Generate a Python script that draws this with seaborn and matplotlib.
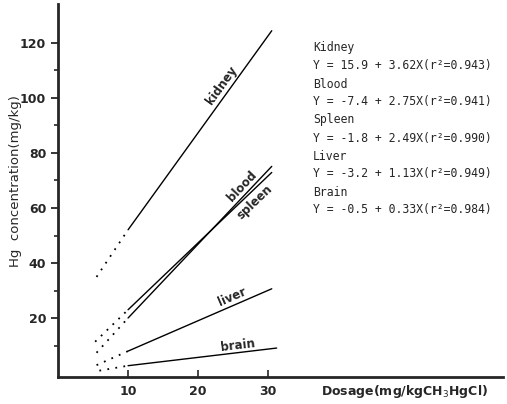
import numpy as np
import pandas as pd
import matplotlib
matplotlib.use("Agg")
import matplotlib.pyplot as plt
import seaborn as sns

# Dose points (mg/kg CH3HgCl): start of dotted extrapolation, start and end of solid fit
organs = ["kidney", "blood", "spleen", "liver", "brain"]
x_dot_start = [5.5, 5.5, 5.3, 5.5, 5.9]
x_solid_start = [10, 10, 10, 10, 10]
x_solid_end = [30.5, 30.5, 30.5, 30.5, 31.2]

# Hg concentration (mg/kg) at those doses
y_dot_start = [35.0, 7.5, 11.5, 3.0, 1.0]
y_solid_start = [52.1, 20.1, 23.1, 8.1, 2.8]
y_solid_end = [124.3, 75.1, 72.9, 30.7, 9.2]

# Regression equations shown at the right
eq_names = ["Kidney", "Blood", "Spleen", "Liver", "Brain"]
eq_text = [
    "Y = 15.9 + 3.62X(r²=0.943)",
    "Y = -7.4 + 2.75X(r²=0.941)",
    "Y = -1.8 + 2.49X(r²=0.990)",
    "Y = -3.2 + 1.13X(r²=0.949)",
    "Y = -0.5 + 0.33X(r²=0.984)",
]

# where the in-plot organ names sit: dose on the line, pixel offset from the line
label_x = [23.3, 26.2, 28.0, 24.9, 25.6]
label_dy = [15, 12, -13, 9, 7]

sns.set_style("ticks")
plt.rcParams["font.family"] = ["DejaVu Sans"]

fig = plt.figure(figsize=(5.07, 4.04), dpi=100)
ax = fig.add_axes([58 / 507, 27 / 404, 445 / 507, 373 / 404])

for i, organ in enumerate(organs):
    solid = pd.DataFrame({"dose": [x_solid_start[i], x_solid_end[i]],
                          "hg": [y_solid_start[i], y_solid_end[i]]})
    dotted = pd.DataFrame({"dose": [x_dot_start[i], x_solid_start[i]],
                           "hg": [y_dot_start[i], y_solid_start[i]]})
    sns.lineplot(data=solid, x="dose", y="hg", color="black", lw=1.0, ax=ax)
    sns.lineplot(data=dotted, x="dose", y="hg", color="black", lw=1.3,
                 linestyle=(0, (1, 3.5)), ax=ax)

ax.set_xlim(0, 63.5)
ax.set_ylim(-1.3, 134)
fig.canvas.draw()

# organ names along the lines
for i, organ in enumerate(organs):
    xs = [x_solid_start[i], x_solid_end[i]]
    ys = [y_solid_start[i], y_solid_end[i]]
    p0 = ax.transData.transform((xs[0], ys[0]))
    p1 = ax.transData.transform((xs[1], ys[1]))
    angle = np.degrees(np.arctan2(p1[1] - p0[1], p1[0] - p0[0]))
    ly = np.interp(label_x[i], xs, ys)
    ax.annotate(organ, xy=(label_x[i], ly), xytext=(0, label_dy[i]),
                textcoords="offset pixels", rotation=angle,
                rotation_mode="anchor", ha="center", va="center",
                fontsize=8.5, fontweight="bold")

# equation block
for i in range(len(eq_names)):
    fig.text(313 / 507, 1 - (48 + 36 * i) / 404, eq_names[i],
             family="DejaVu Sans Mono", fontsize=8.3, va="center")
    fig.text(313 / 507, 1 - (66 + 36 * i) / 404, eq_text[i],
             family="DejaVu Sans Mono", fontsize=8.3, va="center")

ax.set_xticks([10, 20, 30])
ax.set_yticks([20, 40, 60, 80, 100, 120])
ax.set_yticks([10, 30, 50, 70, 90, 110], minor=True)
ax.tick_params(axis="x", direction="in", length=5, width=1.2, labelsize=9, pad=6)
ax.tick_params(axis="y", which="major", direction="out", length=5, width=1.3, labelsize=9)
ax.tick_params(axis="y", which="minor", direction="out", length=3, width=1.2)
for lab in ax.get_xticklabels() + ax.get_yticklabels():
    lab.set_fontweight("bold")

sns.despine(ax=ax)
ax.spines["left"].set_linewidth(2)
ax.spines["bottom"].set_linewidth(2)

ax.set_ylabel("Hg  concentration(mg/kg)", fontsize=9.5)
ax.yaxis.set_label_coords(-0.081, 0.525)
ax.set_xlabel("Dosage(mg/kgCH$_3$HgCl)", fontsize=9, fontweight="bold",
              loc="right", va="center")
ax.xaxis.set_label_coords(0.966, -0.04)

fig.savefig("out.png", dpi=100)
